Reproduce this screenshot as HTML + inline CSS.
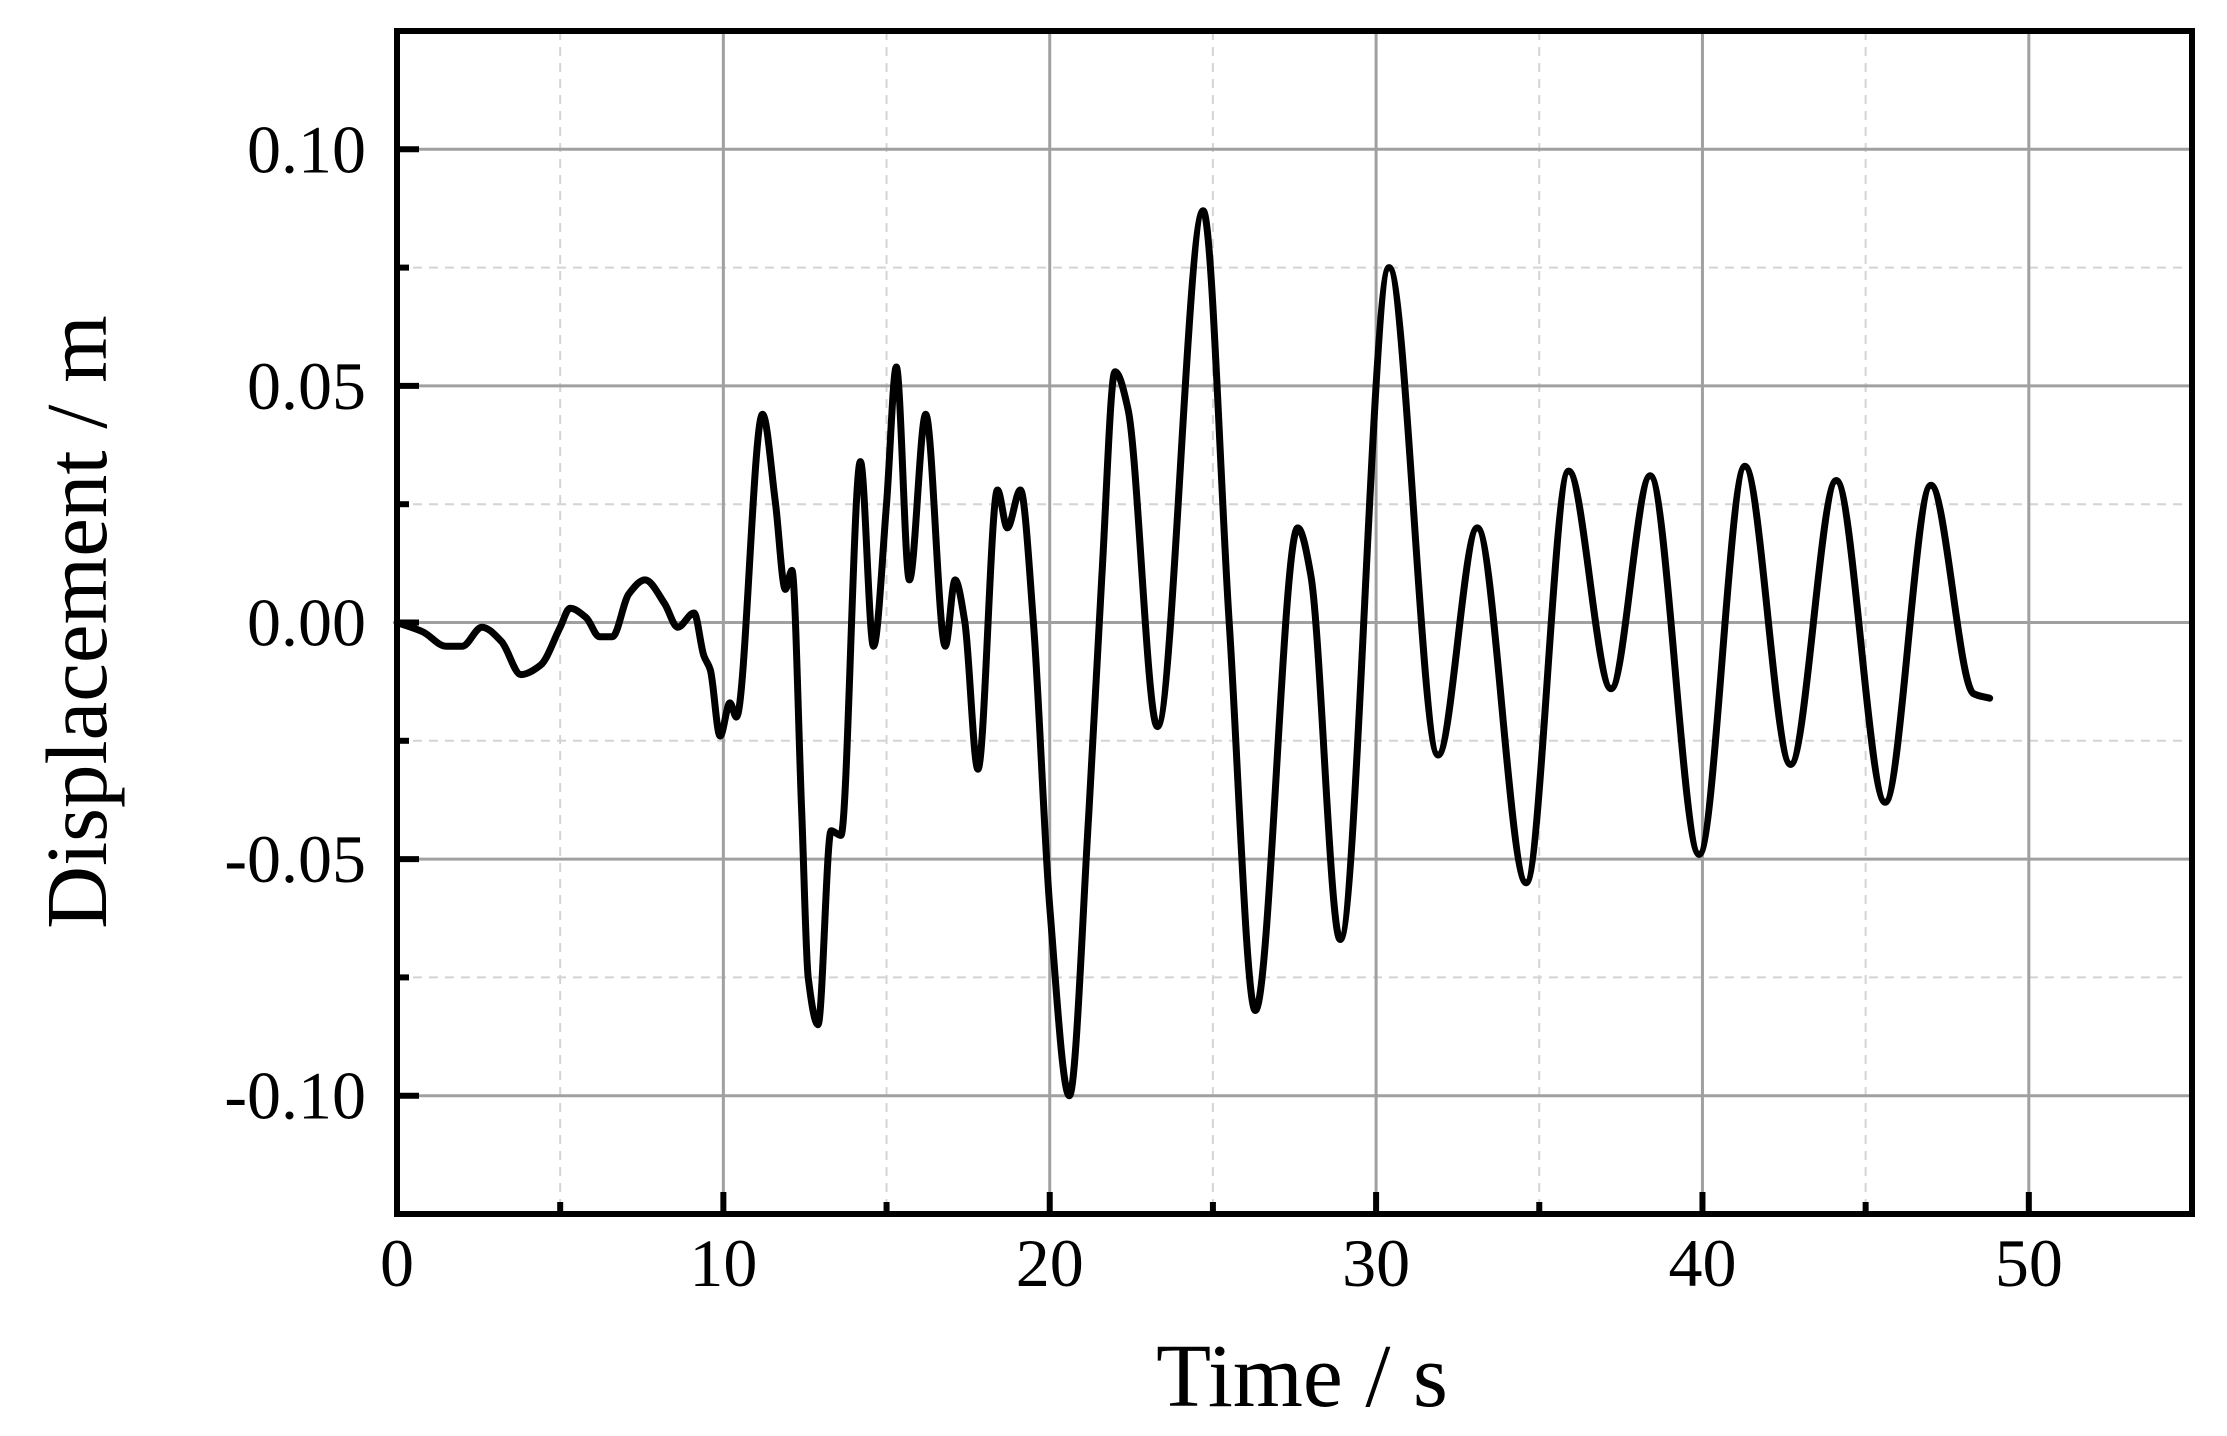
<!DOCTYPE html>
<html><head><meta charset="utf-8">
<style>
html,body{margin:0;padding:0;background:#fff;}
svg{display:block;}
text{font-family:"Liberation Serif","Times New Roman",serif;fill:#000;}
</style></head>
<body>
<svg id="chart" width="2227" height="1436" viewBox="0 0 2227 1436" xmlns="http://www.w3.org/2000/svg">
<g id="grid"></g>
<g id="series"></g>
<g id="axes"></g>
<text x="1302" y="1406" font-size="90" text-anchor="middle">Time / s</text>
<text x="0" y="0" font-size="87" text-anchor="middle" transform="translate(106,622) rotate(-90)">Displacement / m</text>
</svg>
<script>
const times = [0,0.8,1.5,2.0,2.6,3.2,3.8,4.4,5.0,5.3,5.8,6.2,6.6,7.1,7.6,8.2,8.6,9.1,9.4,9.6,9.9,10.2,10.4,11.2,11.6,11.9,12.1,12.4,12.6,12.9,13.3,13.6,14.2,14.6,15.0,15.3,15.7,16.2,16.8,17.1,17.4,17.8,18.4,18.7,19.1,19.5,20.0,20.6,21.2,21.6,22.0,22.4,23.3,24.7,25.5,26.3,27.6,28.0,28.9,30.4,31.9,33.1,34.6,35.9,37.2,38.4,39.9,41.3,42.7,44.1,45.6,47.0,48.3,48.8];
const values = [0,-0.002,-0.005,-0.005,-0.001,-0.004,-0.011,-0.009,-0.001,0.003,0.001,-0.003,-0.003,0.006,0.009,0.004,-0.001,0.002,-0.007,-0.010,-0.024,-0.017,-0.020,0.044,0.025,0.007,0.011,-0.040,-0.075,-0.085,-0.044,-0.045,0.034,-0.005,0.025,0.054,0.009,0.044,-0.005,0.009,0.000,-0.031,0.028,0.020,0.028,0.000,-0.060,-0.100,-0.040,0.010,0.053,0.045,-0.022,0.087,0.000,-0.082,0.020,0.010,-0.067,0.075,-0.028,0.020,-0.055,0.032,-0.014,0.031,-0.049,0.033,-0.030,0.030,-0.038,0.029,-0.015,-0.016];
const xTicks = [0,10,20,30,40,50];
const xMinor = [5,15,25,35,45];
const yTicks = [0.10,0.05,0.00,-0.05,-0.10];
const yTickLabels = ["0.10","0.05","0.00","-0.05","-0.10"];
const yMinor = [0.075,0.025,-0.025,-0.075];

const L=397,R=2192,T=31,B=1214, XMAX=55, YMIN=-0.125, YMAX=0.125;
const xs=t=>L+(t/XMAX)*(R-L);
const ys=v=>B-(v-YMIN)/(YMAX-YMIN)*(B-T);
const NS="http://www.w3.org/2000/svg";
function mk(tag,parent,attrs){const e=document.createElementNS(NS,tag);for(const k in attrs)e.setAttribute(k,attrs[k]);parent.appendChild(e);return e;}
const grid=document.getElementById('grid'),axes=document.getElementById('axes'),series=document.getElementById('series');

xMinor.forEach(t=>{const l=mk('line',grid,{x1:xs(t),x2:xs(t),y1:T,y2:B,stroke:'#d4d4d4','stroke-width':2,'stroke-dasharray':'9,7'});
});
yMinor.forEach(v=>{const l=mk('line',grid,{x1:L,x2:R,y1:ys(v),y2:ys(v),stroke:'#d4d4d4','stroke-width':2,'stroke-dasharray':'9,7'});
});
xTicks.forEach(t=>{const l=mk('line',grid,{x1:xs(t),x2:xs(t),y1:T,y2:B,stroke:'#a0a0a0','stroke-width':3});
});
yTicks.forEach(v=>{const l=mk('line',grid,{x1:L,x2:R,y1:ys(v),y2:ys(v),stroke:'#a0a0a0','stroke-width':3});
});

(function(){
 const n=times.length,px=times.map(xs),py=values.map(ys);
 const d=[],m=[];
 for(let i=0;i<n-1;i++)d.push((py[i+1]-py[i])/(px[i+1]-px[i]));
 m[0]=d[0];m[n-1]=d[n-2];
 for(let i=1;i<n-1;i++){if(d[i-1]*d[i]<=0)m[i]=0;else{m[i]=2/(1/d[i-1]+1/d[i]);}}
 let p='M'+px[0].toFixed(1)+','+py[0].toFixed(1);
 for(let i=0;i<n-1;i++){const h=(px[i+1]-px[i])/3;
  p+=' C'+(px[i]+h).toFixed(1)+','+(py[i]+m[i]*h).toFixed(1)+' '+(px[i+1]-h).toFixed(1)+','+(py[i+1]-m[i+1]*h).toFixed(1)+' '+px[i+1].toFixed(1)+','+py[i+1].toFixed(1);}
 const path=mk('path',series,{d:p,fill:'none',stroke:'#000','stroke-width':7,'stroke-linejoin':'round','stroke-linecap':'round'});
 
 
})();

xTicks.forEach(t=>{const l=mk('line',axes,{x1:xs(t),x2:xs(t),y1:B,y2:B-22,stroke:'#000','stroke-width':6});

const tx=mk('text',axes,{x:xs(t),y:1286,'font-size':68,'text-anchor':'middle'});tx.textContent=String(t);
});
xMinor.forEach(t=>{const l=mk('line',axes,{x1:xs(t),x2:xs(t),y1:B,y2:B-12,stroke:'#000','stroke-width':6});
});
yTicks.forEach((v,i)=>{const l=mk('line',axes,{x1:L,x2:L+22,y1:ys(v),y2:ys(v),stroke:'#000','stroke-width':6});

const tx=mk('text',axes,{x:366,y:ys(v)+23,'font-size':68,'text-anchor':'end'});tx.textContent=yTickLabels[i];
});
yMinor.forEach(v=>{const l=mk('line',axes,{x1:L,x2:L+12,y1:ys(v),y2:ys(v),stroke:'#000','stroke-width':6});
});
const fr=mk('rect',axes,{x:L,y:T,width:R-L,height:B-T,fill:'none',stroke:'#000','stroke-width':6});


</script>
</body></html>
